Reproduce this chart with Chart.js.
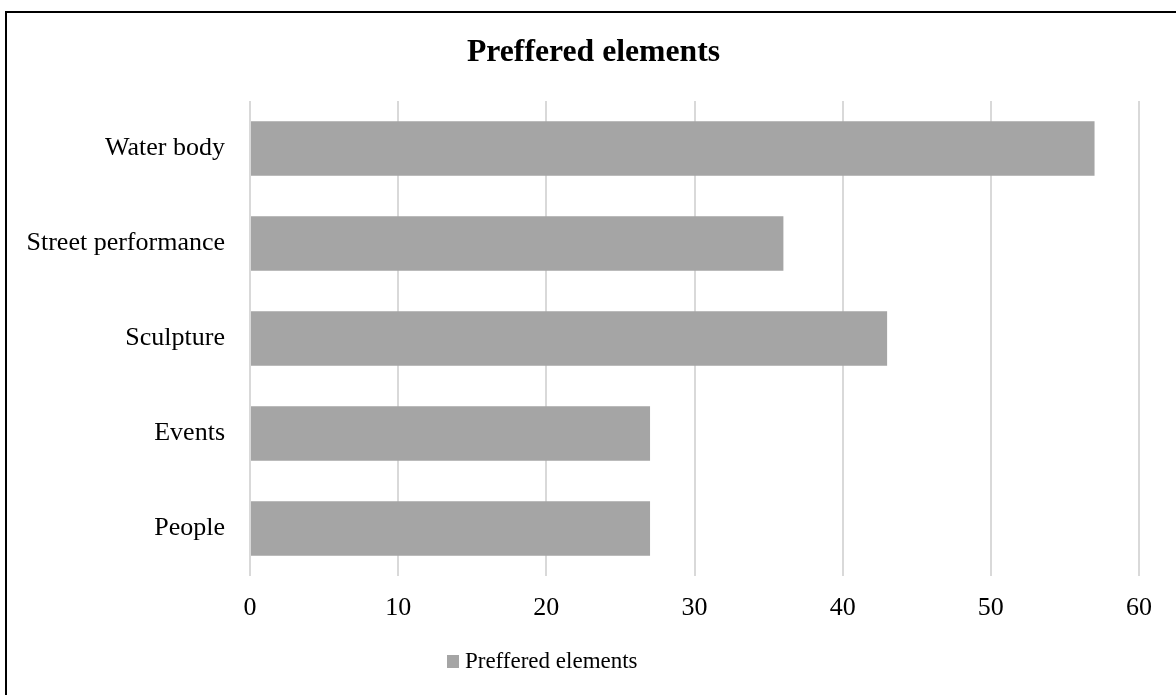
<!DOCTYPE html>
<html>
<head>
<meta charset="utf-8">
<script src="https://cdn.jsdelivr.net/npm/chart.js@4"></script>
<style>
  html, body { margin: 0; padding: 0; background: #ffffff; overflow: hidden; }
  #frame {
    position: absolute; left: 5px; top: 11px;
    width: 2000px; height: 2000px;
    border-left: 2px solid #000; border-top: 2px solid #000;
  }
  #wrap { position: absolute; left: 0; top: 0; width: 1176px; height: 695px; }
</style>
</head>
<body>
<div id="frame"></div>
<div id="wrap"><canvas id="chart" width="1176" height="695"></canvas></div>
<script>
// Survey answers: which elements people prefer
const categories = ["Water body", "Street performance", "Sculpture", "Events", "People"];
const seriesName = "Preffered elements";
const values = [57, 36, 43, 27, 27];
const xTicks = [0, 10, 20, 30, 40, 50, 60];

const serif = "'Liberation Serif', 'Times New Roman', serif";
const barColor = "#a5a5a5";

// Small square used as the legend marker
const marker = document.createElement("canvas");
marker.width = 12;
marker.height = 13;
(function () {
  const c = marker.getContext("2d");
  c.fillStyle = barColor;
  c.fillRect(0, 0, 12, 13);
})();

// Nudges the title to the right and the legend row to the left
const boxShift = {
  id: "boxShift",
  afterLayout(chart) {
    const t = chart.titleBlock;
    if (t) { t.left += 24; t.right += 24; }
    const lg = chart.legend;
    if (lg) { lg.left -= 24.5; lg.right -= 24.5; }
  }
};

new Chart(document.getElementById("chart"), {
  type: "bar",
  data: {
    labels: categories,
    datasets: [{
      label: seriesName,
      data: values,
      backgroundColor: barColor,
      borderWidth: 0,
      categoryPercentage: 1.0,
      barPercentage: 0.575
    }]
  },
  plugins: [boxShift],
  options: {
    indexAxis: "y",
    responsive: false,
    animation: false,
    layout: { padding: { left: 0, right: 37, top: 0, bottom: 12 } },
    plugins: {
      title: {
        display: true,
        text: seriesName,
        color: "#000",
        font: { family: serif, size: 31.7, weight: "bold" },
        padding: { top: 34, bottom: 29 }
      },
      legend: {
        display: true,
        position: "bottom",
        labels: {
          color: "#000",
          font: { family: serif, size: 23 },
          usePointStyle: true,
          pointStyle: marker,
          pointStyleWidth: 1,
          boxHeight: 12,
          padding: 10
        }
      },
      tooltip: { enabled: false }
    },
    scales: {
      x: {
        min: xTicks[0],
        max: xTicks[xTicks.length - 1],
        afterBuildTicks: (scale) => { scale.ticks = xTicks.map(v => ({ value: v })); },
        afterFit: (scale) => { scale.height = 64; },
        grid: { color: "#d9d9d9", lineWidth: 2, drawTicks: false },
        border: { display: false },
        ticks: {
          color: "#000",
          font: { family: serif, size: 26 },
          padding: 17
        }
      },
      y: {
        afterFit: (scale) => { scale.width = 250; },
        grid: { display: false, drawTicks: false },
        border: { display: false },
        ticks: {
          color: "#000",
          font: { family: serif, size: 26 },
          padding: 25
        }
      }
    }
  }
});
</script>
</body>
</html>
